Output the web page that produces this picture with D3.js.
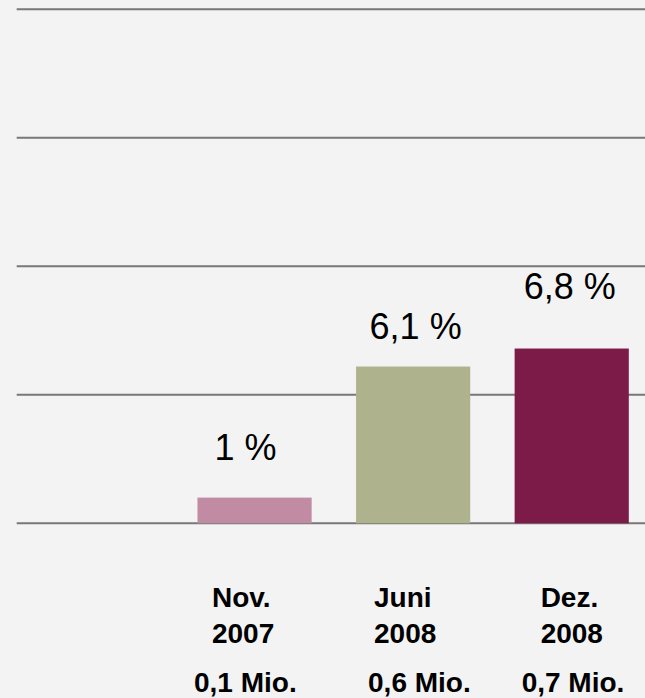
<!DOCTYPE html>
<html>
<head>
<meta charset="utf-8">
<script src="https://cdn.jsdelivr.net/npm/d3@7"></script>
<style>
  html, body { margin: 0; padding: 0; background: #f3f3f3; }
  svg { display: block; }
  text { font-family: Arial, "Liberation Sans", sans-serif; fill: #000; }
</style>
</head>
<body>
<div id="chart"></div>
<script>
// ---- data ----
const categories = ["", "Nov. 2007", "Juni 2008", "Dez. 2008"];
const categoryLine1 = ["", "Nov.", "Juni", "Dez."];
const categoryLine2 = ["", "2007", "2008", "2008"];
const subLabels = ["", "0,1 Mio.", "0,6 Mio.", "0,7 Mio."];
const values = [null, 1, 6.1, 6.8];
const valueLabels = ["", "1 %", "6,1 %", "6,8 %"];
const yTicks = [0, 5, 10, 15, 20];
const barColors = ["none", "#c08ba3", "#afb38d", "#7d1b48"];

// ---- layout (not data) ----
const W = 645, H = 698;
const valueLabelDx = [0, -9, 2.5, -2];
const valueLabelGap = [0, 38, 28, 50];
const catLabelDx = [0, 14.5, 18, 26];
const subLabelDx = [0, -3.5, 12, 7];

const svg = d3.select("#chart").append("svg").attr("width", W).attr("height", H);
svg.append("rect").attr("width", W).attr("height", H).attr("fill", "#f3f3f3");

const x = d3.scaleBand().domain(categories).range([16.7, 651]).paddingInner(0.28).paddingOuter(0.14);
const y = d3.scaleLinear().domain([0, 20]).range([523.3, 9.3]);

// gridlines
svg.append("g").selectAll("line").data(yTicks).join("line")
  .attr("x1", 16.7).attr("x2", 651)
  .attr("y1", d => y(d)).attr("y2", d => y(d))
  .attr("stroke", "#777").attr("stroke-width", 2);

const data = categories.map((c, i) => ({c, i, v: values[i]})).filter(d => d.v != null);

// bars
svg.append("g").selectAll("rect").data(data).join("rect")
  .attr("x", d => x(d.c)).attr("width", x.bandwidth())
  .attr("y", d => y(d.v)).attr("height", d => y(0) - y(d.v))
  .attr("fill", d => barColors[d.i]);

// value labels
svg.append("g").selectAll("text").data(data).join("text")
  .attr("x", d => x(d.c) + x.bandwidth() / 2 + valueLabelDx[d.i])
  .attr("y", d => y(d.v) - valueLabelGap[d.i])
  .attr("text-anchor", "middle")
  .style("font-size", "36px")
  .text(d => valueLabels[d.i]);

// category labels
const cat = svg.append("g").selectAll("text").data(data).join("text")
  .attr("x", d => x(d.c) + catLabelDx[d.i])
  .style("font-size", "28px").style("font-weight", "bold");
cat.append("tspan").attr("x", d => x(d.c) + catLabelDx[d.i]).attr("y", 607.3).text(d => categoryLine1[d.i]);
cat.append("tspan").attr("x", d => x(d.c) + catLabelDx[d.i]).attr("y", 643).text(d => categoryLine2[d.i]);

svg.append("g").selectAll("text").data(data).join("text")
  .attr("x", d => x(d.c) + subLabelDx[d.i])
  .attr("y", 691.7)
  .style("font-size", "28px").style("font-weight", "bold")
  .text(d => subLabels[d.i]);
</script>
</body>
</html>
